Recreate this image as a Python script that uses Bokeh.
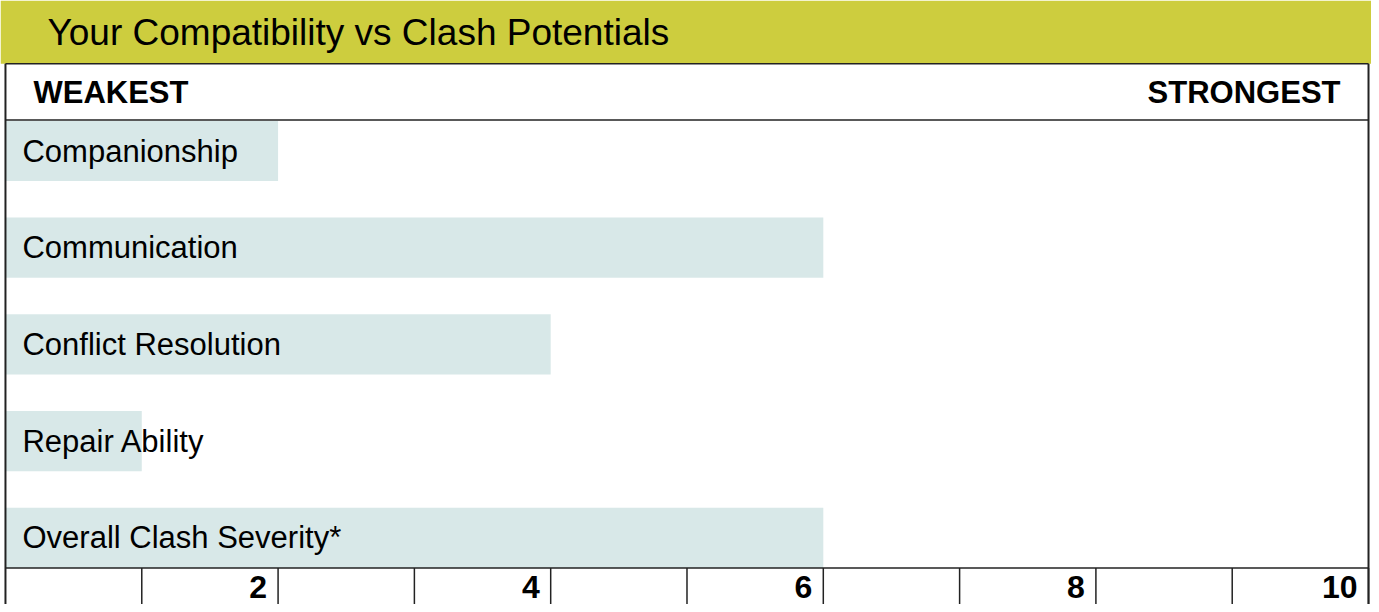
from bokeh.plotting import figure
from bokeh.models import Range1d, BoxAnnotation, Label, ColumnDataSource
from bokeh.core.properties import value
from bokeh.embed import file_html
from bokeh.resources import INLINE

# ---- data ----
title_text = "Your Compatibility vs Clash Potentials"
low_label = "WEAKEST"
high_label = "STRONGEST"
categories = ["Companionship", "Communication", "Conflict Resolution",
              "Repair Ability", "Overall Clash Severity*"]
scores = [2, 6, 4, 1, 6]
scale_max = 10
cell_values = list(range(1, 11))
tick_values = [2, 4, 6, 8, 10]
tick_labels = ["2", "4", "6", "8", "10"]

# ---- layout (in reference pixel rows) ----
FONT_NAME = "Liberation Sans"
FONT = value(FONT_NAME)
TITLE_BOTTOM = 64
HEADER_BOTTOM = 121
ROW_TOP0 = 122
ROW_STEP = 98
BAR_H = 61
AXIS_TOP = 575
PAGE_H = 612

W, H = 1371, 604
unit_px = 137.1
x_lo = -5 / unit_px
x_hi = (1379 - 5) / unit_px

p = figure(width=W, height=H, output_backend="svg", toolbar_location=None,
           x_range=Range1d(x_lo, x_hi), y_range=Range1d(PAGE_H, 0),
           min_border=0, outline_line_color=None)
p.axis.visible = False
p.grid.visible = False
p.background_fill_color = "white"
p.border_fill_color = "white"

# title band
p.add_layout(BoxAnnotation(top=0, bottom=TITLE_BOTTOM, fill_color="#CDCD3E",
                           fill_alpha=1, line_color=None, level="underlay"))
p.add_layout(Label(x=0, y=TITLE_BOTTOM / 2, x_offset=42, text=title_text,
                   text_baseline="middle", text_font=FONT_NAME,
                   text_font_size="37px", text_color="#000000"))

# header
hdr_y = (TITLE_BOTTOM + HEADER_BOTTOM) / 2 + 1
p.add_layout(Label(x=0, y=hdr_y, x_offset=28, text=low_label,
                   text_baseline="middle", text_font=FONT_NAME,
                   text_font_style="bold", text_font_size="31px",
                   text_color="#000000"))
p.add_layout(Label(x=scale_max, y=hdr_y, x_offset=-28, text=high_label,
                   text_align="right", text_baseline="middle",
                   text_font=FONT_NAME, text_font_style="bold",
                   text_font_size="31px", text_color="#000000"))

# bars
centers = [ROW_TOP0 + ROW_STEP * i + BAR_H / 2 for i in range(len(categories))]
src = ColumnDataSource(dict(y=centers, right=scores, label=categories))
p.hbar(y="y", height=BAR_H, left=0, right="right", source=src,
       fill_color="#D8E8E8", line_color=None)
p.text(x=0, y="y", text="label", source=src, x_offset=17,
       text_baseline="middle", text_font=FONT, text_font_size="31px",
       text_color="#000000")

# frame lines
line_col = "#222222"
p.segment(x0=[0, scale_max], y0=[TITLE_BOTTOM] * 2, x1=[0, scale_max],
          y1=[PAGE_H] * 2, line_color=line_col, line_width=2)
p.segment(x0=[0, 0, 0], y0=[TITLE_BOTTOM, HEADER_BOTTOM, AXIS_TOP],
          x1=[scale_max] * 3, y1=[TITLE_BOTTOM, HEADER_BOTTOM, AXIS_TOP],
          line_color=line_col, line_width=1.5)
p.segment(x0=cell_values, y0=[AXIS_TOP] * len(cell_values), x1=cell_values,
          y1=[PAGE_H] * len(cell_values), line_color=line_col, line_width=1.5)

# axis labels
axis_y = (AXIS_TOP + PAGE_H) / 2 + 1
p.text(x=tick_values, y=[axis_y] * len(tick_values), text=tick_labels,
       x_offset=-11, text_align="right", text_baseline="middle",
       text_font=FONT, text_font_style="bold", text_font_size="32px",
       text_color="#000000")

open("out.html", "w").write(file_html(p, INLINE))
